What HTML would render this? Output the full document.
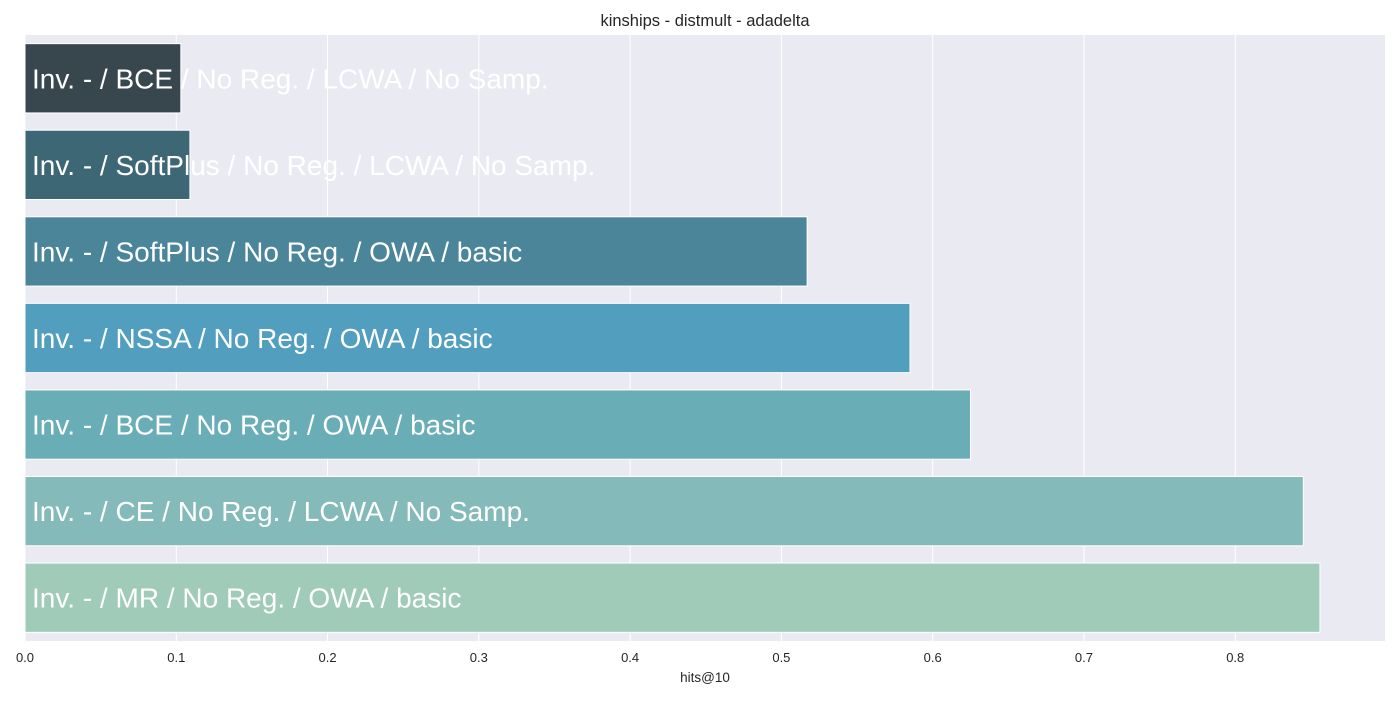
<!DOCTYPE html>
<html><head><meta charset="utf-8"><style>
body{margin:0;background:#fff;width:1400px;height:700px;overflow:hidden;font-family:"Liberation Sans",Arial,sans-serif;}
</style></head><body>
<svg id="chart" width="1400" height="700" xmlns="http://www.w3.org/2000/svg">
<text x="705" y="26" text-anchor="middle" font-size="16.5" fill="#262626">kinships - distmult - adadelta</text>
<rect x="25" y="35" width="1360" height="606" fill="#eaeaf2"/>
<g id="grid"></g><g id="bars"></g><g id="ticks"></g>
<text x="705" y="682" text-anchor="middle" font-size="13.5" fill="#262626">hits@10</text>
</svg>
<script>
const categories = ["Inv. - / BCE / No Reg. / LCWA / No Samp.","Inv. - / SoftPlus / No Reg. / LCWA / No Samp.","Inv. - / SoftPlus / No Reg. / OWA / basic","Inv. - / NSSA / No Reg. / OWA / basic","Inv. - / BCE / No Reg. / OWA / basic","Inv. - / CE / No Reg. / LCWA / No Samp.","Inv. - / MR / No Reg. / OWA / basic"];
const values = [0.103,0.109,0.517,0.585,0.625,0.845,0.856];
const tickValues = [0,0.1,0.2,0.3,0.4,0.5,0.6,0.7,0.8];
const tickLabels = ["0.0","0.1","0.2","0.3","0.4","0.5","0.6","0.7","0.8"];
const colors = ["#37474d","#3e6776","#4a8599","#519ebf","#69adb7","#84bab9","#a0cbb9"];
const NS="http://www.w3.org/2000/svg";
const X0=25,X1=1385,Y0=35,Y1=641,xmax=0.899;
const xs=v=>X0+v/xmax*(X1-X0);
const band=(Y1-Y0)/categories.length;
const grid=document.getElementById('grid'),bars=document.getElementById('bars'),ticks=document.getElementById('ticks');
tickValues.forEach((t,i)=>{
  const l=document.createElementNS(NS,'line');
  l.setAttribute('x1',xs(t));l.setAttribute('x2',xs(t));l.setAttribute('y1',Y0);l.setAttribute('y2',Y1);
  l.setAttribute('stroke','#fff');l.setAttribute('stroke-width','1');
  
  
  grid.appendChild(l);
  const tx=document.createElementNS(NS,'text');
  tx.setAttribute('x',xs(t));tx.setAttribute('y',662);tx.setAttribute('text-anchor','middle');
  tx.setAttribute('font-size','13');tx.setAttribute('fill','#262626');tx.textContent=tickLabels[i];
  
  
  ticks.appendChild(tx);
});
categories.forEach((c,i)=>{
  const y=Y0+i*band+band*0.1,h=band*0.8;
  const r=document.createElementNS(NS,'rect');
  r.setAttribute('x',X0);r.setAttribute('y',y);r.setAttribute('width',xs(values[i])-X0);r.setAttribute('height',h);
  r.setAttribute('fill',colors[i]);r.setAttribute('stroke','#fff');r.setAttribute('stroke-width','1');
  
  
  bars.appendChild(r);
  const t=document.createElementNS(NS,'text');
  t.setAttribute('x',32);t.setAttribute('y',y+h/2+10);t.setAttribute('font-size','28');t.setAttribute('fill','#fff');
  t.textContent=c;
  
  
  bars.appendChild(t);
});
</script>
</body></html>
